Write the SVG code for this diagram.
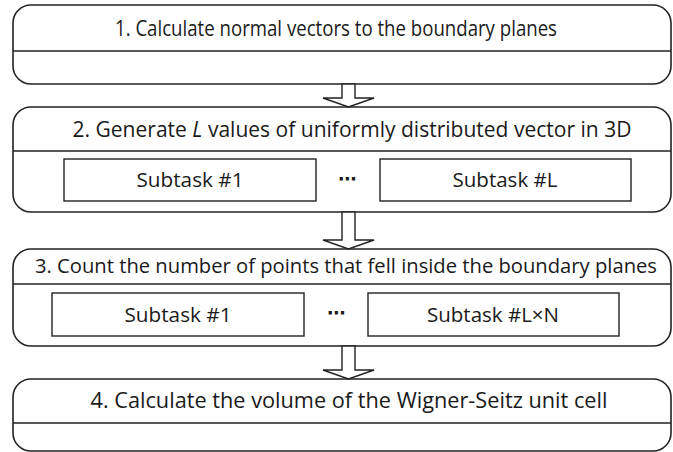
<svg xmlns="http://www.w3.org/2000/svg" width="673" height="452" viewBox="0 0 673 452">
<style>
.box{fill:#fff;stroke:#222;stroke-width:1.6}
.div{stroke:#222;stroke-width:1.6}
.sub{fill:#fff;stroke:#222;stroke-width:1.4}
.arr{fill:#fff;stroke:#222;stroke-width:1.4;stroke-linejoin:miter}
text{font-family:"Open Sans","Liberation Sans",sans-serif;fill:#1a1a1a}
.t{font-size:21px;text-anchor:middle}
.s{font-size:20px;text-anchor:middle}
.d{font-family:"DejaVu Sans",sans-serif;font-size:18px;text-anchor:middle;font-weight:bold}
</style>
<rect x="0" y="0" width="673" height="452" fill="#fff"/>
<g id="step1">
<rect class="box" x="13" y="5" width="658" height="79" rx="18"/>
<line class="div" x1="13" y1="51" x2="671" y2="51"/>
<text class="t" x="336" y="36" textLength="442" lengthAdjust="spacingAndGlyphs">1. Calculate normal vectors to the boundary planes</text>
</g>
<g id="step2">
<rect class="box" x="13" y="107" width="658" height="105" rx="18"/>
<line class="div" x1="13" y1="151" x2="671" y2="151"/>
<text class="t" x="352" y="137" textLength="559" lengthAdjust="spacingAndGlyphs">2. Generate <tspan font-style="italic">L</tspan> values of uniformly distributed vector in 3D</text>
<g id="sub2a"><rect class="sub" x="64" y="159" width="252" height="42"/><text class="s" x="190" y="187" textLength="107" lengthAdjust="spacingAndGlyphs">Subtask #1</text></g>
<text class="d" x="347" y="185">⋯</text>
<g id="sub2b"><rect class="sub" x="380" y="159" width="251" height="42"/><text class="s" x="505" y="187" textLength="105" lengthAdjust="spacingAndGlyphs">Subtask #L</text></g>
</g>
<g id="step3">
<rect class="box" x="13" y="249" width="658" height="97" rx="18"/>
<line class="div" x1="13" y1="284" x2="671" y2="284"/>
<text class="t" x="346" y="273" style="font-size:20px" textLength="622" lengthAdjust="spacingAndGlyphs">3. Count the number of points that fell inside the boundary planes</text>
<g id="sub3a"><rect class="sub" x="52" y="293" width="252" height="43"/><text class="s" x="178" y="322" textLength="107" lengthAdjust="spacingAndGlyphs">Subtask #1</text></g>
<text class="d" x="336" y="319">⋯</text>
<g id="sub3b"><rect class="sub" x="368" y="293" width="251" height="43"/><text class="s" x="493" y="322" textLength="132" lengthAdjust="spacingAndGlyphs">Subtask #L×N</text></g>
</g>
<g id="step4">
<rect class="box" x="13" y="379" width="658" height="72" rx="18"/>
<line class="div" x1="13" y1="423" x2="671" y2="423"/>
<text class="t" x="349" y="408" textLength="517" lengthAdjust="spacingAndGlyphs">4. Calculate the volume of the Wigner-Seitz unit cell</text>
</g>
<g id="connectors">
<polygon class="arr" points="342,84 342,98 323,98 348.5,107 374,98 355,98 355,84"/>
<polygon class="arr" points="342,212 342,240 323,240 348.5,249 374,240 355,240 355,212"/>
<polygon class="arr" points="342,346 342,370 323,370 348.5,379 374,370 355,370 355,346"/>
</g>
</svg>
